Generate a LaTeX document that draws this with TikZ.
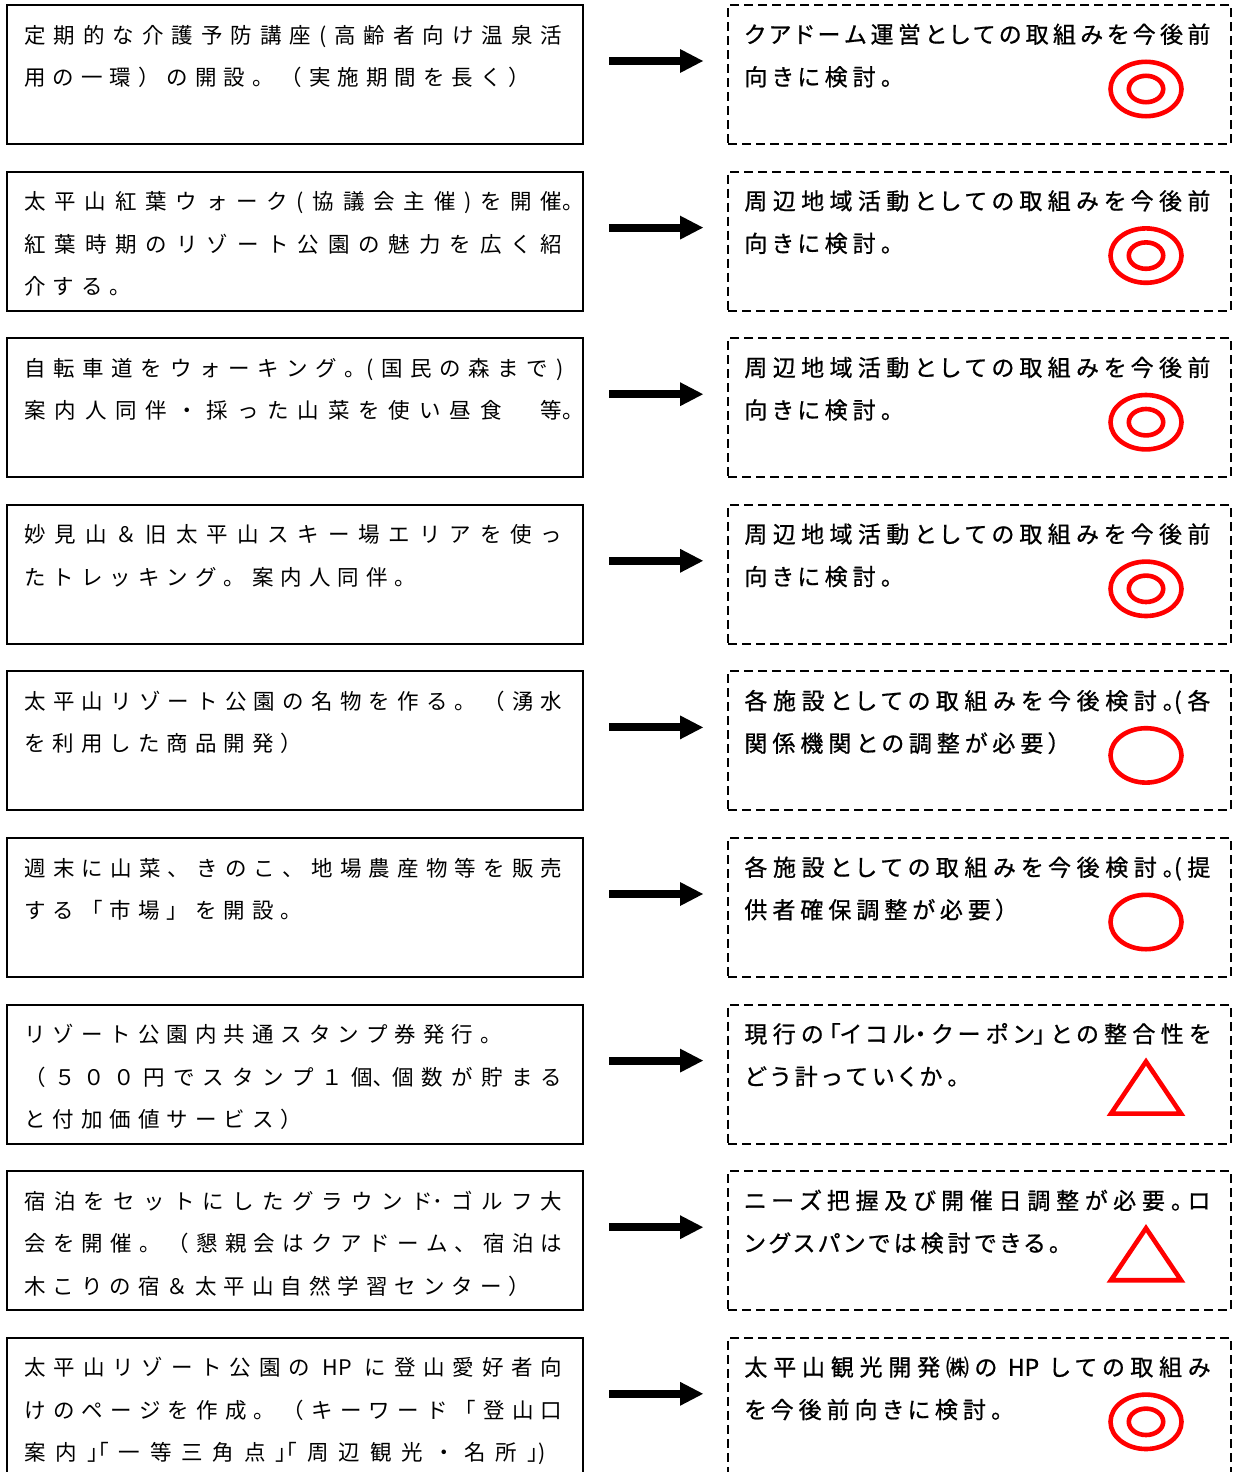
\documentclass[tikz,border=0pt]{standalone}
\usepackage{fontspec}
\usetikzlibrary{arrows.meta}
\newfontfamily\lfont{Noto Sans CJK JP}
\newfontfamily\rfont{Noto Sans CJK JP}[RawFeature=+palt,FakeBold=0.8]
\newdimen\px \px=0.5pt
\makeatletter
\newdimen\spr@gap
\def\spr@end{}
\def\sprgap#1#2{\hbox{\spr@gap=#1\relax\def\spr@sep{\hskip\spr@gap\relax}\spr@a#2\spr@end}}
\def\sprto#1#2{\hbox to #1{\def\spr@sep{\hfill}\spr@a#2\spr@end}}
\def\spr@a#1{#1\futurelet\spr@next\spr@b}
\def\spr@b{\ifx\spr@next\spr@end\expandafter\@gobble\else\spr@sep\expandafter\spr@a\fi}
\makeatother
\tikzset{
  lbox/.style={draw, line width=1pt, minimum width=288pt, minimum height=69.5pt, anchor=north west, inner sep=0pt},
  rbox/.style={draw, line width=1pt, dash pattern=on 4.5pt off 2.5pt, minimum width=251.5pt, minimum height=69.5pt, anchor=north west, inner sep=0pt},
  ltxt/.style={anchor=base west, inner sep=0pt, font=\lfont\fontsize{10.75pt}{12pt}\selectfont},
  rtxt/.style={anchor=base west, inner sep=0pt, font=\rfont\fontsize{11.5pt}{12pt}\selectfont},
  flow/.style={line width=4pt, -{Triangle[length=11.5pt,width=12pt,line width=0pt]}},
  sym/.style={draw=red, line width=2.3pt},
}
\begin{document}
\begin{tikzpicture}[x=0.5pt,y=-0.5pt]
\useasboundingbox (0,0) rectangle (1234,1472);
\clip (0,0) rectangle (1234,1472);
\foreach \i/\T in {1/4,2/170.6,3/337.2,4/503.8,5/670.4,6/837,7/1003.6,8/1170.2,9/1336.8}{
  \node[lbox] (L\i) at (6,\T) {};
  \node[rbox] (R\i) at (727,\T) {};
  \draw[flow] ([xshift=12.5pt,yshift=-28.5pt]L\i.north east) -- ([xshift=-12pt,yshift=-28.5pt]R\i.north west);
}
% symbols
\foreach \T in {4,170.6,337.2,503.8,1336.8}{
  \draw[sym] (1146,\T+85) ellipse [x radius=17.75pt, y radius=13.6pt];
  \draw[sym] (1146,\T+85) ellipse [x radius=8.6pt, y radius=6.6pt];
}
\foreach \T in {670.4,837}{
  \draw[sym] (1146,\T+85) ellipse [x radius=17.75pt, y radius=13.6pt];
}
\foreach \T in {1003.6,1170.2}{
  \draw[sym, line join=miter] (1146,\T+58) -- (1181,\T+110) -- (1111,\T+110) -- cycle;
}
% left texts
\node[ltxt] (l11) at (24,43) {\sprto{538\px}{定期的な介護予防講座(高齢者向け温泉活}};
\node[ltxt] (l12) at (24,85.5) {\sprgap{7\px}{用の一環）の開設。（実施期間を長く）}};
\node[ltxt] (l21) at (24,209.6) {\sprto{538\px}{太平山紅葉ウォーク(協議会主催)を開催}。};
\node[ltxt] (l22) at (24,252.1) {\sprto{538\px}{紅葉時期のリゾート公園の魅力を広く紹}};
\node[ltxt] (l23) at (24,294.6) {\sprgap{7\px}{介する。}};
\node[ltxt] (l31) at (24,376.2) {\sprto{539\px}{自転車道をウォーキング{。(}国民の森まで)}};
\node[ltxt] (l32) at (24,418.7) {\sprto{538\px}{案内人同伴・採った山菜を使い昼食　等}。};
\node[ltxt] (l41) at (24,542.8) {\sprto{538\px}{妙見山＆旧太平山スキー場エリアを使っ}};
\node[ltxt] (l42) at (24,585.3) {\sprgap{7\px}{たトレッキング。案内人同伴。}};
\node[ltxt] (l51) at (24,709.4) {\sprto{538\px}{太平山リゾート公園の名物を作る。（湧水}};
\node[ltxt] (l52) at (24,751.9) {\sprgap{7\px}{を利用した商品開発）}};
\node[ltxt] (l61) at (24,876) {\sprto{538\px}{週末に山菜、きのこ、地場農産物等を販売}};
\node[ltxt] (l62) at (24,918.5) {\sprgap{7\px}{する「市場」を開設。}};
\node[ltxt] (l71) at (24,1042.6) {\sprgap{7\px}{リゾート公園内共通スタンプ券発行。}};
\node[ltxt] (l72) at (24,1085.1) {\sprto{538\px}{（５００円でスタンプ１{個､}個数が貯まる}};
\node[ltxt] (l73) at (24,1127.6) {\sprgap{7\px}{と付加価値サービス）}};
\node[ltxt] (l81) at (24,1209.2) {\sprto{538\px}{宿泊をセットにしたグラウン{ド･}ゴルフ大}};
\node[ltxt] (l82) at (24,1251.7) {\sprto{538\px}{会を開催。（懇親会はクアドーム、宿泊は}};
\node[ltxt] (l83) at (24,1294.2) {\sprgap{7\px}{木こりの宿＆太平山自然学習センター）}};
\node[ltxt] (l91) at (24,1375.8) {\sprto{538\px}{太平山リゾート公園の{ HP }に登山愛好者向}};
\node[ltxt] (l92) at (24,1418.3) {\sprto{538\px}{けのページを作成。（キーワード「登山口}};
\node[ltxt] (l93) at (24,1460.8) {\sprto{521\px}{案内{｣｢}一等三角点{｣｢}周辺観光・名所{｣)}}};
% right texts
\node[rtxt] (r11) at (744,43) {\sprto{466\px}{クアドーム運営としての取組みを今後前}};
\node[rtxt] (r12) at (744,85.5) {\sprgap{5\px}{向きに検討。}};
\node[rtxt] (r21) at (744,209.6) {\sprto{466\px}{周辺地域活動としての取組みを今後前}};
\node[rtxt] (r22) at (744,252.1) {\sprgap{5\px}{向きに検討。}};
\node[rtxt] (r31) at (744,376.2) {\sprto{466\px}{周辺地域活動としての取組みを今後前}};
\node[rtxt] (r32) at (744,418.7) {\sprgap{5\px}{向きに検討。}};
\node[rtxt] (r41) at (744,542.8) {\sprto{466\px}{周辺地域活動としての取組みを今後前}};
\node[rtxt] (r42) at (744,585.3) {\sprgap{5\px}{向きに検討。}};
\node[rtxt] (r51) at (744,709.4) {\sprto{466\px}{各施設としての取組みを今後検討{。(}各}};
\node[rtxt] (r52) at (744,751.9) {\sprgap{5\px}{関係機関との調整が必要）}};
\node[rtxt] (r61) at (744,876) {\sprto{466\px}{各施設としての取組みを今後検討{。(}提}};
\node[rtxt] (r62) at (744,918.5) {\sprgap{5\px}{供者確保調整が必要）}};
\node[rtxt] (r71) at (744,1042.6) {\sprto{466\px}{現行の{「イ}コ{ル・}クーポ{ン」}との整合性を}};
\node[rtxt] (r72) at (744,1085.1) {\sprgap{5\px}{どう計っていくか。}};
\node[rtxt] (r81) at (744,1209.2) {\sprto{466\px}{ニーズ把握及び開催日調整が必要。ロ}};
\node[rtxt] (r82) at (744,1251.7) {\sprgap{4\px}{ングスパンでは検討できる。}};
\node[rtxt] (r91) at (744,1375.8) {\sprto{466\px}{太平山観光開発㈱の{ HP }しての取組み}};
\node[rtxt] (r92) at (744,1418.3) {\sprgap{5\px}{を今後前向きに検討。}};
\end{tikzpicture}
\end{document}
